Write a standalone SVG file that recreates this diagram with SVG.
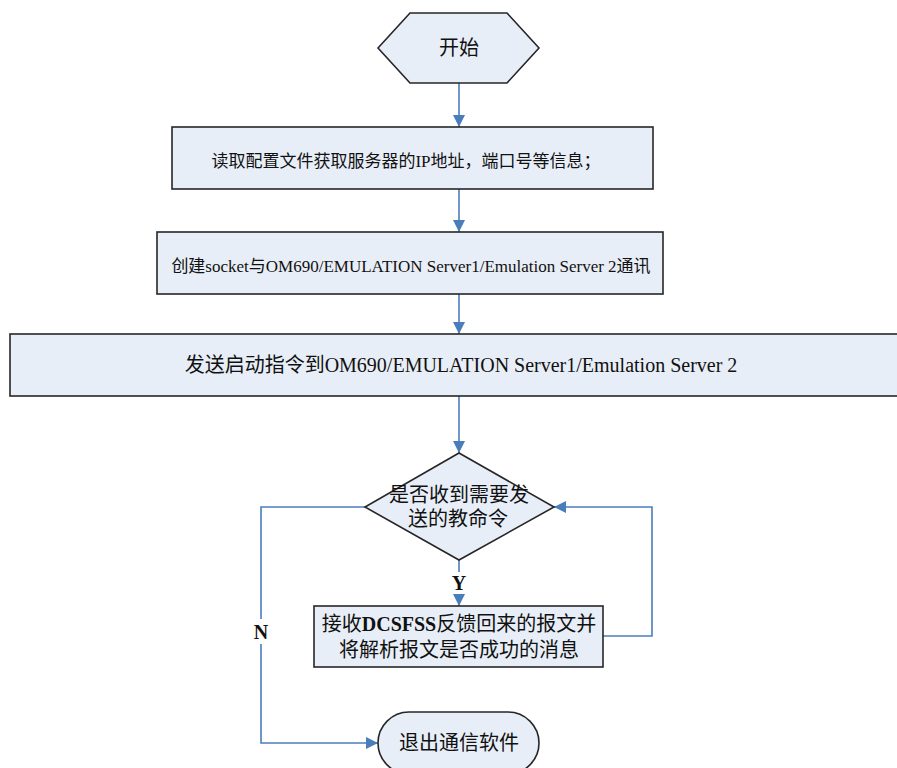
<svg xmlns="http://www.w3.org/2000/svg" width="897" height="768" viewBox="0 0 897 768">
  <style>
    .shape { fill: #E8EEF7; stroke: #262626; stroke-width: 1.6; }
    .conn { fill: none; stroke: #4A7EBB; stroke-width: 1.6; }
    .txt { font-family: "Liberation Serif", "Noto Sans CJK SC", serif; fill: #111; text-anchor: middle; dominant-baseline: central; }
    .t17 { font-size: 17px; }
    .t20 { font-size: 20px; }
    .lbl { font-family: "Liberation Serif", serif; font-size: 20px; font-weight: bold; fill: #111; text-anchor: middle; dominant-baseline: central; }
  </style>
  <defs>
    <marker id="arrow" viewBox="0 0 12 12" refX="12" refY="6" markerWidth="12" markerHeight="12" markerUnits="userSpaceOnUse" orient="auto">
      <path d="M0,0 L12,6 L0,12 z" fill="#4A7EBB"/>
    </marker>
  </defs>

  <rect width="897" height="768" fill="#FFFFFF"/>

  <!-- connectors -->
  <g id="connectors">
    <line class="conn" x1="459" y1="83" x2="459" y2="127" marker-end="url(#arrow)"/>
    <line class="conn" x1="459" y1="189" x2="459" y2="232" marker-end="url(#arrow)"/>
    <line class="conn" x1="459" y1="294" x2="459" y2="334" marker-end="url(#arrow)"/>
    <line class="conn" x1="459" y1="396" x2="459" y2="453" marker-end="url(#arrow)"/>
    <!-- Y branch -->
    <line class="conn" x1="459" y1="560" x2="459" y2="572"/>
    <line class="conn" x1="459" y1="595" x2="459" y2="606" marker-end="url(#arrow)"/>
    <!-- loop back to decision -->
    <polyline class="conn" points="603,636 652,636 652,507 554,507" marker-end="url(#arrow)"/>
    <!-- N branch -->
    <polyline class="conn" points="365,507 261,507 261,619"/>
    <polyline class="conn" points="261,644 261,743 378,743" marker-end="url(#arrow)"/>
    <text class="lbl" x="459" y="583">Y</text>
    <text class="lbl" x="261" y="632">N</text>
  </g>

  <g id="start">
    <polygon class="shape" points="378,48 410,13 507,13 539,48 507,83 410,83"/>
    <text class="txt t20" x="459" y="48">开始</text>
  </g>

  <g id="read-config">
    <rect class="shape" x="172" y="127" width="481" height="62"/>
    <text class="txt t17" x="406" y="161">读取配置文件获取服务器的IP地址，端口号等信息；</text>
  </g>

  <g id="create-socket">
    <rect class="shape" x="157" y="232" width="506" height="62"/>
    <text class="txt t17" x="411" y="266">创建socket与OM690/EMULATION Server1/Emulation Server 2通讯</text>
  </g>

  <g id="send-start">
    <rect class="shape" x="10" y="334" width="900" height="62"/>
    <text class="txt t20" x="461" y="365">发送启动指令到OM690/EMULATION Server1/Emulation Server 2</text>
  </g>

  <g id="decision">
    <polygon class="shape" points="459,453 554,507 459,560 365,507"/>
    <text class="txt t20" x="459" y="495">是否收到需要发</text>
    <text class="txt t20" x="458" y="519">送的教命令</text>
  </g>

  <g id="receive">
    <rect class="shape" x="314" y="606" width="289" height="61"/>
    <text class="txt t20" x="459" y="624">接收<tspan font-weight="bold">DCSFSS</tspan>反馈回来的报文并</text>
    <text class="txt t20" x="459" y="650">将解析报文是否成功的消息</text>
  </g>

  <g id="exit">
    <rect class="shape" x="378" y="712" width="161" height="62" rx="31" ry="31"/>
    <text class="txt t20" x="459" y="743">退出通信软件</text>
  </g>
</svg>
